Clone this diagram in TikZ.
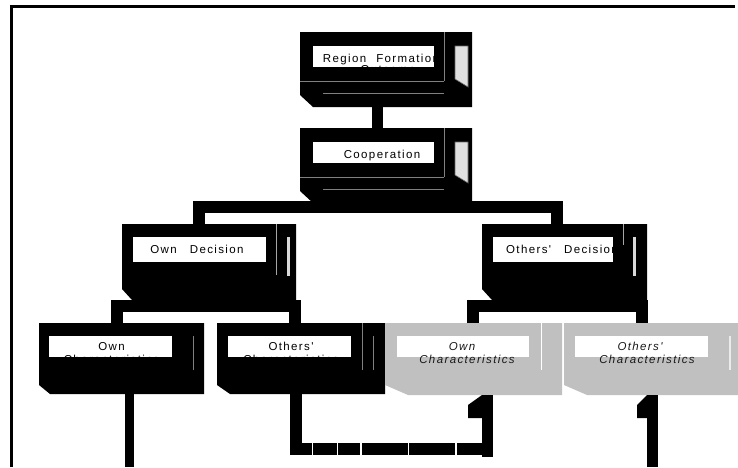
\documentclass[tikz,border=0pt]{standalone}
\usepackage{fontspec}
\setmainfont{Liberation Sans}
\newfontfamily\lsfont[LetterSpace=12]{Liberation Sans}
\definecolor{boxgray}{HTML}{C0C0C0}
\begin{document}
\begin{tikzpicture}[x=1pt,y=-1pt,
  bar/.style={draw=black,line width=12pt,line cap=butt,line join=miter},
  lab/.style={fill=white,draw=none,inner sep=0pt},
  txt/.style={font=\lsfont\fontsize{11.5}{13}\selectfont,inner sep=0pt,anchor=base,text=black},
  itxt/.style={font=\lsfont\itshape\fontsize{11.5}{13}\selectfont,inner sep=0pt,anchor=base,text=black!90},
  thinln/.style={draw=black!50,line width=0.8pt},
  panel/.style={fill=black!12,draw=black!60,line width=0.6pt},
]
\useasboundingbox (0,0) rectangle (738,467);
% frame
\draw[line width=3pt] (11.5,467) -- (11.5,6.5) -- (735,6.5);

% ---------- Region Formation Outcome ----------
\fill (300,32) -- (472,32) -- (472,107) -- (313,107) -- (300,95) -- cycle;
\draw[thinln] (300,81) -- (444,81);
\draw[thinln] (323,93) -- (444,93);
\draw[thinln] (444,32) -- (444,81);
\filldraw[panel] (455,46) -- (468,46) -- (468,87) -- (455,79) -- cycle;
\node[lab,minimum width=121pt,minimum height=21pt] (lRF) at (373.5,56.5) {};
\node[txt] (tRF1) at (381,62) {Region\hspace{10pt}Formation};
\node[txt] (tRF2) at (388,73.5) {Outcome};

% ---------- Cooperation ----------
\fill (300,128) -- (472,128) -- (472,203) -- (313,203) -- (300,191) -- cycle;
\draw[thinln] (300,177) -- (444,177);
\draw[thinln] (323,189) -- (444,189);
\draw[thinln] (444,128) -- (444,177);
\filldraw[panel] (455,142) -- (468,142) -- (468,183) -- (455,175) -- cycle;
\node[lab,minimum width=121pt,minimum height=21pt] (lCO) at (373.5,152.5) {};
\node[txt] (tCO) at (382,158) {Cooperation};

% connectors top
\coordinate (rf-s) at (377.5,107);
\coordinate (co-n) at (377.5,128);
\draw[bar,line width=11pt] (rf-s) -- (co-n);
\coordinate (co-s) at (377.5,206.5);
\coordinate (od-n) at (198.5,224);
\coordinate (xd-n) at (557,224);
\draw[bar] (od-n) |- (co-s) -| (xd-n);

% ---------- Own Decision ----------
\fill (122,224) -- (296,224) -- (296,300) -- (132,300) -- (122,289) -- cycle;
\draw[draw=black!35,line width=0.8pt] (276,224) -- (276,275);
\fill[black!15] (286.5,237) rectangle (289.5,276);
\node[lab,minimum width=133pt,minimum height=25pt] (lOD) at (199.5,249.5) {};
\node[txt] (tOD) at (197,253) {Own\hspace{13pt}Decision};

% ---------- Others' Decision ----------
\fill (482,224) -- (647,224) -- (647,300) -- (492,300) -- (482,289) -- cycle;
\draw[draw=black!35,line width=0.8pt] (623,224) -- (623,245);
\fill[black!15] (633,237) rectangle (636,276);
\node[lab,minimum width=120pt,minimum height=25pt] (lXD) at (553,249.5) {};
\node[txt] (tXD) at (562,253) {Others'\hspace{13pt}Decision};

% connectors level 2 -> 3
\coordinate (od-s) at (205,306);
\coordinate (oc-n) at (116.5,323);
\coordinate (xc-n) at (295,323);
\draw[bar] (oc-n) |- (od-s) -| (xc-n);
\coordinate (xd-s) at (560,306);
\coordinate (goc-n) at (473,323);
\coordinate (gxc-n) at (642,323);
\draw[bar] (goc-n) |- (xd-s) -| (gxc-n);

% ---------- Own Characteristics (black) ----------
\fill (39,323) -- (204,323) -- (204,394) -- (50,394) -- (39,385) -- cycle;
\draw[thinln] (193,336) -- (193,370);
\node[lab,minimum width=123pt,minimum height=21pt] (lOC) at (110.5,346.5) {};
\node[txt] (tOC1) at (111.5,350) {Own};
\node[txt] (tOC2) at (111.5,363) {Characteristics};

% ---------- Others' Characteristics (black) ----------
\fill (217,323) -- (385,323) -- (385,394) -- (230,394) -- (217,385) -- cycle;
\draw[thinln] (362,323) -- (362,370);
\draw[thinln] (373,336) -- (373,370);
\node[lab,minimum width=123pt,minimum height=21pt] (lXC) at (289.5,346.5) {};
\node[txt] (tXC1) at (291,350) {Others'};
\node[txt] (tXC2) at (291,363) {Characteristics};

% ---------- Own Characteristics (gray) ----------
\fill[boxgray] (385,323) -- (562,323) -- (562,395) -- (408,395) -- (385,385) -- cycle;
\draw[white,line width=1pt] (541,323) -- (541,370);
\node[lab,minimum width=132pt,minimum height=21pt] (lGOC) at (463,346.5) {};
\node[itxt] (tGOC1) at (462,350) {Own};
\node[itxt] (tGOC2) at (467,363) {Characteristics};

% ---------- Others' Characteristics (gray) ----------
\fill[boxgray] (564,323) -- (738,323) -- (738,395) -- (587,395) -- (564,385) -- cycle;
\draw[black!8,line width=2pt] (730,336) -- (730,370);
\node[lab,minimum width=133pt,minimum height=21pt] (lGXC) at (641.5,346.5) {};
\node[itxt] (tGXC1) at (640,350) {Others'};
\node[itxt] (tGXC2) at (647,363) {Characteristics};

% ---------- bottom connectors ----------
\coordinate (oc-s) at (129,394);
\coordinate (oc-end) at (129,467);
\draw[bar,line width=9pt] (oc-s) -- (oc-end);

\coordinate (xc-s) at (296,394);
\coordinate (gj) at (487.5,449);
\draw[bar] (xc-s) |- (gj);
\foreach \gx in {312.5,337.5,361,408.5,456}
  \draw[white,line width=1.5pt] (\gx,443) -- (\gx,455);

\coordinate (goc-s) at (487.5,395);
\coordinate (goc-end) at (487.5,457);
\draw[bar,line width=11pt] (goc-s) -- (goc-end);
\fill (468,418) -- (468,405) -- (482,395) -- (482,418) -- cycle;

\coordinate (gxc-s) at (652.5,395);
\coordinate (gxc-end) at (652.5,467);
\draw[bar,line width=11pt] (gxc-s) -- (gxc-end);
\fill (637,418) -- (637,405) -- (647,395) -- (647,418) -- cycle;
\end{tikzpicture}
\end{document}
